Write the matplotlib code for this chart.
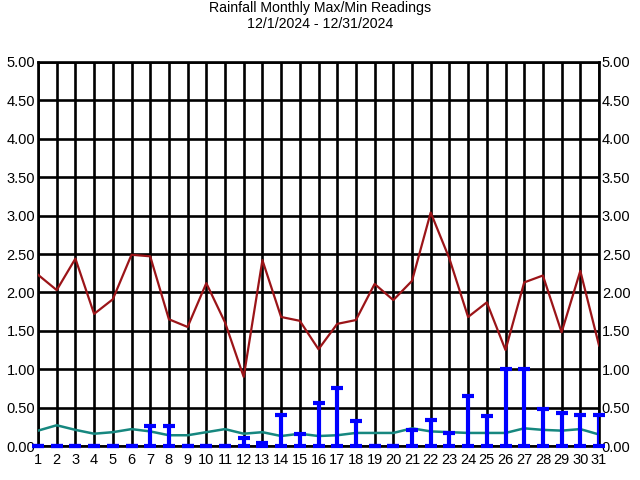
import numpy as np
import matplotlib
matplotlib.use("Agg")
import matplotlib.pyplot as plt

plt.rcParams['font.family'] = ['Liberation Sans', 'DejaVu Sans']

days = list(range(1, 32))
max_vals = [2.23, 2.03, 2.44, 1.72, 1.91, 2.49, 2.47, 1.65, 1.55, 2.12, 1.61, 0.90, 2.42,
            1.68, 1.63, 1.26, 1.59, 1.64, 2.11, 1.90, 2.15, 3.04, 2.44, 1.68, 1.87, 1.25,
            2.13, 2.22, 1.48, 2.28, 1.31]
min_vals = [0.20, 0.27, 0.21, 0.16, 0.18, 0.22, 0.19, 0.14, 0.14, 0.18, 0.22, 0.16, 0.18,
            0.13, 0.16, 0.13, 0.14, 0.17, 0.17, 0.17, 0.23, 0.19, 0.18, 0.17, 0.17, 0.17,
            0.23, 0.21, 0.20, 0.22, 0.15]
rain = [0, 0, 0, 0, 0, 0, 0.26, 0.26, 0, 0, 0, 0.10, 0.04, 0.40, 0.16, 0.56, 0.75, 0.32,
        0, 0, 0.21, 0.34, 0.17, 0.65, 0.39, 1.00, 1.00, 0.48, 0.43, 0.40, 0.40]
yticks = [0.0, 0.5, 1.0, 1.5, 2.0, 2.5, 3.0, 3.5, 4.0, 4.5, 5.0]
title = "Rainfall Monthly Max/Min Readings\n12/1/2024 - 12/31/2024"

fig = plt.figure(figsize=(6.4, 4.8), dpi=100)
ax = fig.add_axes([38/640, 34/480, 561/640, 384/480])
ax.set_xlim(1, 31)
ax.set_ylim(0, 5)
ax.set_xticks(days)
ax.set_xticklabels([str(d) for d in days])
ax.set_yticks(yticks)
ax.set_yticklabels([f"{v:.2f}" for v in yticks])
ax.tick_params(axis='x', length=0, labelsize=10.5, pad=5, colors='black')
ax.tick_params(axis='y', length=0, labelsize=10.5, pad=2, colors='black',
               right=True, labelright=True)
ax.grid(True, color='black', lw=1.9)
ax.set_axisbelow(True)
for s in ax.spines.values():
    s.set_linewidth(1.9)
    s.set_color('black')

ax.plot(days, max_vals, color='#9b1418', lw=1.6, zorder=3)
ax.plot(days, min_vals, color='#16877f', lw=1.8, zorder=3)
ax.vlines(days, 0, rain, color='#0000ff', lw=3, zorder=4)
ax.plot(days, rain, linestyle='none', marker='_', ms=8, mew=3, color='#0000ff', zorder=4, clip_on=False)
ax.plot(days, np.zeros(len(days)), linestyle='none', marker='_', ms=8, mew=3, color='#0000ff', zorder=4, clip_on=False)

fig.text(0.5, 1 - 1/480, title, ha='center', va='top', fontsize=10.2, linespacing=1.15)
fig.savefig("out.png", dpi=100)
